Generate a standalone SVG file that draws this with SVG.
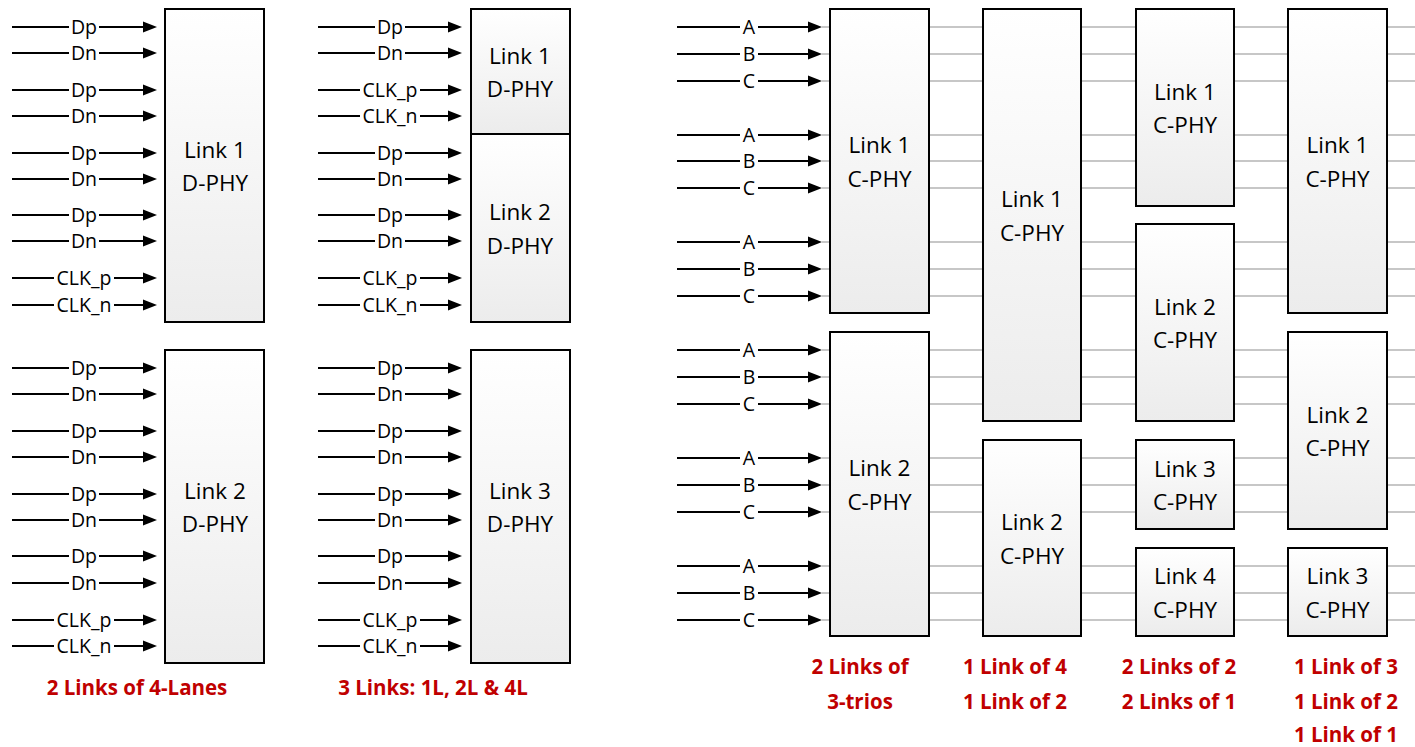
<svg xmlns="http://www.w3.org/2000/svg" width="1415" height="747" viewBox="0 0 1415 747">
<style>
.box{fill:url(#g);stroke:#000;stroke-width:2}
.bt{font-family:"Open Sans","Liberation Sans",sans-serif;font-size:22.5px;fill:#000;text-anchor:middle}
.w{stroke:#000;stroke-width:2;marker-end:url(#ah)}
.lt{font-family:"Open Sans","Liberation Sans",sans-serif;font-size:19.5px;fill:#000;text-anchor:middle}
.m{fill:#fff}
.gl{stroke:#b4b4b4;stroke-width:1.5}
.cap{font-family:"Open Sans","Liberation Sans",sans-serif;font-size:20.5px;font-weight:bold;fill:#c00000;text-anchor:middle}
</style>
<defs>
<linearGradient id="g" x1="0" y1="0" x2="0" y2="1"><stop offset="0" stop-color="#ffffff"/><stop offset="1" stop-color="#ececec"/></linearGradient>
<marker id="ah" viewBox="0 0 14 12" refX="6" refY="6" markerWidth="14" markerHeight="12" markerUnits="userSpaceOnUse" orient="auto"><path d="M0,0.5 L14,6 L0,11.5 z" fill="#000"/></marker>
</defs>
<g id="gray-lines">
<line class="gl" x1="822" y1="27" x2="1415" y2="27"/><line class="gl" x1="822" y1="54" x2="1415" y2="54"/><line class="gl" x1="822" y1="81" x2="1415" y2="81"/>
<line class="gl" x1="822" y1="135" x2="1415" y2="135"/><line class="gl" x1="822" y1="161" x2="1415" y2="161"/><line class="gl" x1="822" y1="188" x2="1415" y2="188"/>
<line class="gl" x1="822" y1="242" x2="1415" y2="242"/><line class="gl" x1="822" y1="269" x2="1415" y2="269"/><line class="gl" x1="822" y1="296" x2="1415" y2="296"/>
<line class="gl" x1="822" y1="350" x2="1415" y2="350"/><line class="gl" x1="822" y1="377" x2="1415" y2="377"/><line class="gl" x1="822" y1="404" x2="1415" y2="404"/>
<line class="gl" x1="822" y1="458" x2="1415" y2="458"/><line class="gl" x1="822" y1="485" x2="1415" y2="485"/><line class="gl" x1="822" y1="512" x2="1415" y2="512"/>
<line class="gl" x1="822" y1="566" x2="1415" y2="566"/><line class="gl" x1="822" y1="593" x2="1415" y2="593"/><line class="gl" x1="822" y1="620" x2="1415" y2="620"/>
</g>
<g id="connectors">
<!-- D-PHY column 1 -->
<line class="w" x1="12" y1="27" x2="149" y2="27"/><rect class="m" x="69" y="19" width="30" height="16"/><text class="lt" x="84" y="34">Dp</text>
<line class="w" x1="12" y1="53" x2="149" y2="53"/><rect class="m" x="69" y="45" width="30" height="16"/><text class="lt" x="84" y="60">Dn</text>
<line class="w" x1="12" y1="90" x2="149" y2="90"/><rect class="m" x="69" y="82" width="30" height="16"/><text class="lt" x="84" y="97">Dp</text>
<line class="w" x1="12" y1="116" x2="149" y2="116"/><rect class="m" x="69" y="108" width="30" height="16"/><text class="lt" x="84" y="123">Dn</text>
<line class="w" x1="12" y1="153" x2="149" y2="153"/><rect class="m" x="69" y="145" width="30" height="16"/><text class="lt" x="84" y="160">Dp</text>
<line class="w" x1="12" y1="179" x2="149" y2="179"/><rect class="m" x="69" y="171" width="30" height="16"/><text class="lt" x="84" y="186">Dn</text>
<line class="w" x1="12" y1="215" x2="149" y2="215"/><rect class="m" x="69" y="207" width="30" height="16"/><text class="lt" x="84" y="222">Dp</text>
<line class="w" x1="12" y1="241" x2="149" y2="241"/><rect class="m" x="69" y="233" width="30" height="16"/><text class="lt" x="84" y="248">Dn</text>
<line class="w" x1="12" y1="278" x2="149" y2="278"/><rect class="m" x="54" y="270" width="60" height="16"/><text class="lt" x="84" y="285">CLK_p</text>
<line class="w" x1="12" y1="305" x2="149" y2="305"/><rect class="m" x="54" y="297" width="60" height="16"/><text class="lt" x="84" y="312">CLK_n</text>
<line class="w" x1="12" y1="368" x2="149" y2="368"/><rect class="m" x="69" y="360" width="30" height="16"/><text class="lt" x="84" y="375">Dp</text>
<line class="w" x1="12" y1="394" x2="149" y2="394"/><rect class="m" x="69" y="386" width="30" height="16"/><text class="lt" x="84" y="401">Dn</text>
<line class="w" x1="12" y1="431" x2="149" y2="431"/><rect class="m" x="69" y="423" width="30" height="16"/><text class="lt" x="84" y="438">Dp</text>
<line class="w" x1="12" y1="457" x2="149" y2="457"/><rect class="m" x="69" y="449" width="30" height="16"/><text class="lt" x="84" y="464">Dn</text>
<line class="w" x1="12" y1="494" x2="149" y2="494"/><rect class="m" x="69" y="486" width="30" height="16"/><text class="lt" x="84" y="501">Dp</text>
<line class="w" x1="12" y1="520" x2="149" y2="520"/><rect class="m" x="69" y="512" width="30" height="16"/><text class="lt" x="84" y="527">Dn</text>
<line class="w" x1="12" y1="556" x2="149" y2="556"/><rect class="m" x="69" y="548" width="30" height="16"/><text class="lt" x="84" y="563">Dp</text>
<line class="w" x1="12" y1="583" x2="149" y2="583"/><rect class="m" x="69" y="575" width="30" height="16"/><text class="lt" x="84" y="590">Dn</text>
<line class="w" x1="12" y1="620" x2="149" y2="620"/><rect class="m" x="54" y="612" width="60" height="16"/><text class="lt" x="84" y="627">CLK_p</text>
<line class="w" x1="12" y1="646" x2="149" y2="646"/><rect class="m" x="54" y="638" width="60" height="16"/><text class="lt" x="84" y="653">CLK_n</text>
<!-- D-PHY column 2 -->
<line class="w" x1="318" y1="27" x2="454" y2="27"/><rect class="m" x="375" y="19" width="30" height="16"/><text class="lt" x="390" y="34">Dp</text>
<line class="w" x1="318" y1="53" x2="454" y2="53"/><rect class="m" x="375" y="45" width="30" height="16"/><text class="lt" x="390" y="60">Dn</text>
<line class="w" x1="318" y1="90" x2="454" y2="90"/><rect class="m" x="360" y="82" width="60" height="16"/><text class="lt" x="390" y="97">CLK_p</text>
<line class="w" x1="318" y1="116" x2="454" y2="116"/><rect class="m" x="360" y="108" width="60" height="16"/><text class="lt" x="390" y="123">CLK_n</text>
<line class="w" x1="318" y1="153" x2="454" y2="153"/><rect class="m" x="375" y="145" width="30" height="16"/><text class="lt" x="390" y="160">Dp</text>
<line class="w" x1="318" y1="179" x2="454" y2="179"/><rect class="m" x="375" y="171" width="30" height="16"/><text class="lt" x="390" y="186">Dn</text>
<line class="w" x1="318" y1="215" x2="454" y2="215"/><rect class="m" x="375" y="207" width="30" height="16"/><text class="lt" x="390" y="222">Dp</text>
<line class="w" x1="318" y1="241" x2="454" y2="241"/><rect class="m" x="375" y="233" width="30" height="16"/><text class="lt" x="390" y="248">Dn</text>
<line class="w" x1="318" y1="278" x2="454" y2="278"/><rect class="m" x="360" y="270" width="60" height="16"/><text class="lt" x="390" y="285">CLK_p</text>
<line class="w" x1="318" y1="305" x2="454" y2="305"/><rect class="m" x="360" y="297" width="60" height="16"/><text class="lt" x="390" y="312">CLK_n</text>
<line class="w" x1="318" y1="368" x2="454" y2="368"/><rect class="m" x="375" y="360" width="30" height="16"/><text class="lt" x="390" y="375">Dp</text>
<line class="w" x1="318" y1="394" x2="454" y2="394"/><rect class="m" x="375" y="386" width="30" height="16"/><text class="lt" x="390" y="401">Dn</text>
<line class="w" x1="318" y1="431" x2="454" y2="431"/><rect class="m" x="375" y="423" width="30" height="16"/><text class="lt" x="390" y="438">Dp</text>
<line class="w" x1="318" y1="457" x2="454" y2="457"/><rect class="m" x="375" y="449" width="30" height="16"/><text class="lt" x="390" y="464">Dn</text>
<line class="w" x1="318" y1="494" x2="454" y2="494"/><rect class="m" x="375" y="486" width="30" height="16"/><text class="lt" x="390" y="501">Dp</text>
<line class="w" x1="318" y1="520" x2="454" y2="520"/><rect class="m" x="375" y="512" width="30" height="16"/><text class="lt" x="390" y="527">Dn</text>
<line class="w" x1="318" y1="556" x2="454" y2="556"/><rect class="m" x="375" y="548" width="30" height="16"/><text class="lt" x="390" y="563">Dp</text>
<line class="w" x1="318" y1="583" x2="454" y2="583"/><rect class="m" x="375" y="575" width="30" height="16"/><text class="lt" x="390" y="590">Dn</text>
<line class="w" x1="318" y1="620" x2="454" y2="620"/><rect class="m" x="360" y="612" width="60" height="16"/><text class="lt" x="390" y="627">CLK_p</text>
<line class="w" x1="318" y1="646" x2="454" y2="646"/><rect class="m" x="360" y="638" width="60" height="16"/><text class="lt" x="390" y="653">CLK_n</text>
<!-- C-PHY inputs -->
<line class="w" x1="677" y1="27" x2="814" y2="27"/><rect class="m" x="740" y="19" width="18" height="16"/><text class="lt" x="749" y="34">A</text>
<line class="w" x1="677" y1="54" x2="814" y2="54"/><rect class="m" x="740" y="46" width="18" height="16"/><text class="lt" x="749" y="61">B</text>
<line class="w" x1="677" y1="81" x2="814" y2="81"/><rect class="m" x="740" y="73" width="18" height="16"/><text class="lt" x="749" y="88">C</text>
<line class="w" x1="677" y1="135" x2="814" y2="135"/><rect class="m" x="740" y="127" width="18" height="16"/><text class="lt" x="749" y="142">A</text>
<line class="w" x1="677" y1="161" x2="814" y2="161"/><rect class="m" x="740" y="153" width="18" height="16"/><text class="lt" x="749" y="168">B</text>
<line class="w" x1="677" y1="188" x2="814" y2="188"/><rect class="m" x="740" y="180" width="18" height="16"/><text class="lt" x="749" y="195">C</text>
<line class="w" x1="677" y1="242" x2="814" y2="242"/><rect class="m" x="740" y="234" width="18" height="16"/><text class="lt" x="749" y="249">A</text>
<line class="w" x1="677" y1="269" x2="814" y2="269"/><rect class="m" x="740" y="261" width="18" height="16"/><text class="lt" x="749" y="276">B</text>
<line class="w" x1="677" y1="296" x2="814" y2="296"/><rect class="m" x="740" y="288" width="18" height="16"/><text class="lt" x="749" y="303">C</text>
<line class="w" x1="677" y1="350" x2="814" y2="350"/><rect class="m" x="740" y="342" width="18" height="16"/><text class="lt" x="749" y="357">A</text>
<line class="w" x1="677" y1="377" x2="814" y2="377"/><rect class="m" x="740" y="369" width="18" height="16"/><text class="lt" x="749" y="384">B</text>
<line class="w" x1="677" y1="404" x2="814" y2="404"/><rect class="m" x="740" y="396" width="18" height="16"/><text class="lt" x="749" y="411">C</text>
<line class="w" x1="677" y1="458" x2="814" y2="458"/><rect class="m" x="740" y="450" width="18" height="16"/><text class="lt" x="749" y="465">A</text>
<line class="w" x1="677" y1="485" x2="814" y2="485"/><rect class="m" x="740" y="477" width="18" height="16"/><text class="lt" x="749" y="492">B</text>
<line class="w" x1="677" y1="512" x2="814" y2="512"/><rect class="m" x="740" y="504" width="18" height="16"/><text class="lt" x="749" y="519">C</text>
<line class="w" x1="677" y1="566" x2="814" y2="566"/><rect class="m" x="740" y="558" width="18" height="16"/><text class="lt" x="749" y="573">A</text>
<line class="w" x1="677" y1="593" x2="814" y2="593"/><rect class="m" x="740" y="585" width="18" height="16"/><text class="lt" x="749" y="600">B</text>
<line class="w" x1="677" y1="620" x2="814" y2="620"/><rect class="m" x="740" y="612" width="18" height="16"/><text class="lt" x="749" y="627">C</text>
</g>
<g id="d1-link1"><rect class="box" x="165" y="9" width="99" height="313"/><text class="bt" x="215" y="157.5">Link 1</text><text class="bt" x="215" y="191">D-PHY</text></g>
<g id="d1-link2"><rect class="box" x="165" y="350" width="99" height="313"/><text class="bt" x="215" y="498.5">Link 2</text><text class="bt" x="215" y="532">D-PHY</text></g>
<g id="d2-link1"><rect class="box" x="471" y="9" width="99" height="125"/><text class="bt" x="520" y="63.5">Link 1</text><text class="bt" x="520" y="97">D-PHY</text></g>
<g id="d2-link2"><rect class="box" x="471" y="134" width="99" height="188"/><text class="bt" x="520" y="220">Link 2</text><text class="bt" x="520" y="253.5">D-PHY</text></g>
<g id="d2-link3"><rect class="box" x="471" y="350" width="99" height="313"/><text class="bt" x="520" y="498.5">Link 3</text><text class="bt" x="520" y="532">D-PHY</text></g>
<g id="c1-link1"><rect class="box" x="830" y="9" width="99" height="304"/><text class="bt" x="879.5" y="153">Link 1</text><text class="bt" x="879.5" y="186.5">C-PHY</text></g>
<g id="c1-link2"><rect class="box" x="830" y="332" width="99" height="304"/><text class="bt" x="879.5" y="476">Link 2</text><text class="bt" x="879.5" y="509.5">C-PHY</text></g>
<g id="c2-link1"><rect class="box" x="983" y="9" width="98" height="412"/><text class="bt" x="1032" y="207">Link 1</text><text class="bt" x="1032" y="240.5">C-PHY</text></g>
<g id="c2-link2"><rect class="box" x="983" y="440" width="98" height="196"/><text class="bt" x="1032" y="530">Link 2</text><text class="bt" x="1032" y="563.5">C-PHY</text></g>
<g id="c3-link1"><rect class="box" x="1136" y="9" width="98" height="197"/><text class="bt" x="1185" y="99.5">Link 1</text><text class="bt" x="1185" y="133">C-PHY</text></g>
<g id="c3-link2"><rect class="box" x="1136" y="224" width="98" height="197"/><text class="bt" x="1185" y="314.5">Link 2</text><text class="bt" x="1185" y="348">C-PHY</text></g>
<g id="c3-link3"><rect class="box" x="1136" y="440" width="98" height="89"/><text class="bt" x="1185" y="476.5">Link 3</text><text class="bt" x="1185" y="510">C-PHY</text></g>
<g id="c3-link4"><rect class="box" x="1136" y="548" width="98" height="88"/><text class="bt" x="1185" y="584">Link 4</text><text class="bt" x="1185" y="617.5">C-PHY</text></g>
<g id="c4-link1"><rect class="box" x="1288" y="9" width="99" height="304"/><text class="bt" x="1337.5" y="153">Link 1</text><text class="bt" x="1337.5" y="186.5">C-PHY</text></g>
<g id="c4-link2"><rect class="box" x="1288" y="332" width="99" height="197"/><text class="bt" x="1337.5" y="422.5">Link 2</text><text class="bt" x="1337.5" y="456">C-PHY</text></g>
<g id="c4-link3"><rect class="box" x="1288" y="548" width="99" height="88"/><text class="bt" x="1337.5" y="584">Link 3</text><text class="bt" x="1337.5" y="617.5">C-PHY</text></g>
<g id="captions">
<text class="cap" x="137" y="695">2 Links of 4-Lanes</text>
<text class="cap" x="433" y="695">3 Links: 1L, 2L &amp; 4L</text>
<text class="cap" x="860" y="674">2 Links of</text>
<text class="cap" x="860" y="709">3-trios</text>
<text class="cap" x="1015" y="674">1 Link of 4</text>
<text class="cap" x="1015" y="709">1 Link of 2</text>
<text class="cap" x="1179" y="674">2 Links of 2</text>
<text class="cap" x="1179" y="709">2 Links of 1</text>
<text class="cap" x="1346" y="674">1 Link of 3</text>
<text class="cap" x="1346" y="709">1 Link of 2</text>
<text class="cap" x="1346" y="742">1 Link of 1</text>
</g>
</svg>
